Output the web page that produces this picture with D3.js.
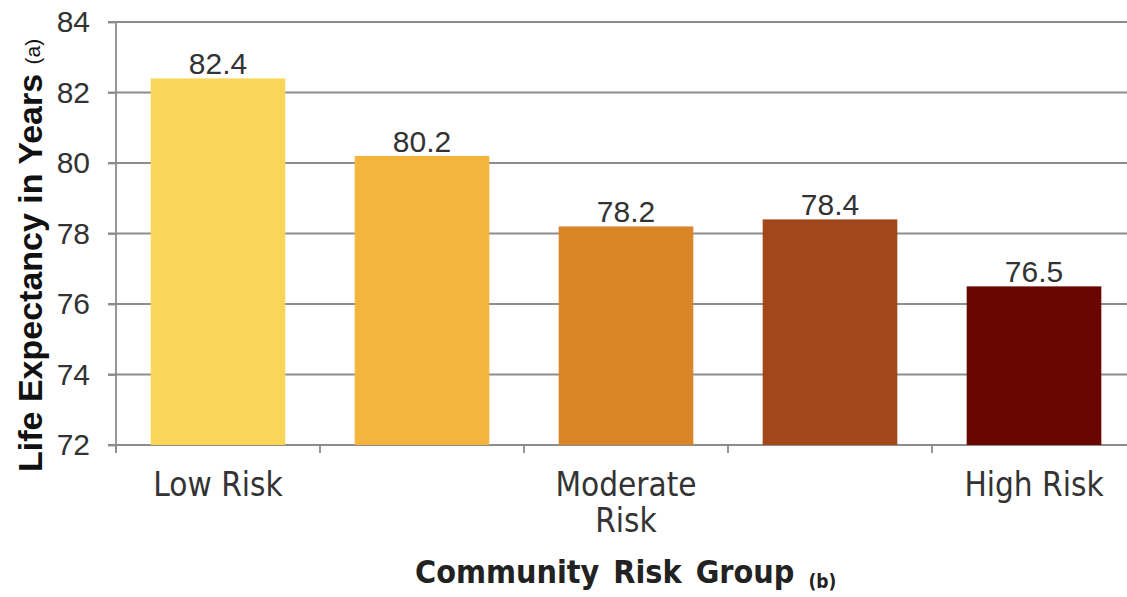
<!DOCTYPE html>
<html><head><meta charset="utf-8">
<script src="https://cdn.jsdelivr.net/npm/d3@7"></script>
<style>body{margin:0;background:#fff}svg{display:block}</style>
</head><body>
<svg id="c" width="1127" height="597"></svg>
<script>
const categories = ["Low Risk", "", "Moderate Risk", "", "High Risk"];
const values = [82.4, 80.2, 78.2, 78.4, 76.5];
const colors = ["#F9D658", "#F4B53E", "#DA8528", "#A2471A", "#690600"];
const yTicks = [72, 74, 76, 78, 80, 82, 84];

(function () {
const svg = d3.select("#c");
const pL = 116, pR = 1136, pT = 22, pB = 445;
const x = d3.scaleBand().domain(d3.range(values.length)).range([pL, pR]).paddingInner(0.34).paddingOuter(0.17);
const y = d3.scaleLinear().domain([72, 84]).range([pB, pT]);

// gridlines
svg.append("g").selectAll("line").data(yTicks).join("line")
  .attr("x1", pL - 8).attr("x2", pR).attr("y1", d => y(d)).attr("y2", d => y(d))
  .attr("stroke", "#8c8c8c").attr("stroke-width", 1.8);

// bars
svg.append("g").selectAll("rect").data(values).join("rect")
  .attr("x", (d, i) => x(i)).attr("width", x.bandwidth())
  .attr("y", d => y(d)).attr("height", d => y(72) - y(d))
  .attr("fill", (d, i) => colors[i]);

// value labels
svg.append("g").selectAll("text").data(values).join("text")
  .attr("x", (d, i) => x(i) + x.bandwidth() / 2).attr("y", d => y(d) - 4)
  .attr("text-anchor", "middle").attr("font-family", "Liberation Sans, Arial, sans-serif")
  .attr("font-size", 30).attr("fill", "#333").text(d => d.toFixed(1));

// y axis
const yAxis = d3.axisLeft(y).tickValues(yTicks).tickSize(8).tickPadding(18).tickFormat(d3.format("d"));
const gy = svg.append("g").attr("transform", `translate(${pL},0)`).call(yAxis);
gy.select(".domain").attr("stroke", "#8c8c8c").attr("stroke-width", 1.8).attr("d", `M0,${pT}V${pB + 8}`);
gy.selectAll(".tick line").attr("stroke", "#8c8c8c").attr("stroke-width", 1.8);
gy.selectAll(".tick text").attr("font-family", "Liberation Sans, Arial, sans-serif").attr("font-size", 30).attr("fill", "#333");

// x axis ticks at band boundaries
const bounds = d3.range(values.length + 1).map(i => pL + i * x.step());
svg.append("g").selectAll("line").data(bounds).join("line")
  .attr("x1", d => d).attr("x2", d => d).attr("y1", pB).attr("y2", pB + 8)
  .attr("stroke", "#8c8c8c").attr("stroke-width", 1.8);

// x category labels
const xl = svg.append("g").selectAll("text").data(categories).join("text")
  .attr("x", (d, i) => x(i) + x.bandwidth() / 2).attr("y", 496)
  .attr("text-anchor", "middle").attr("font-family", "DejaVu Sans Condensed, DejaVu Sans, sans-serif")
  .attr("font-size", 33).attr("fill", "#333");
xl.each(function(d) {
  const parts = d === "Moderate Risk" ? ["Moderate", "Risk"] : [d];
  parts.forEach((p, k) => d3.select(this).append("tspan").attr("x", d3.select(this).attr("x")).attr("dy", k ? 36 : 0).text(p));
});

// x title
const xt = svg.append("text").attr("x", 415).attr("y", 583).attr("text-anchor", "start")
  .attr("font-family", "DejaVu Sans Condensed, DejaVu Sans, sans-serif").attr("font-weight", "bold")
  .attr("font-size", 32).attr("fill", "#222").attr("word-spacing", 4);
xt.append("tspan").text("Community Risk Group ");
xt.append("tspan").attr("font-size", 19).attr("dy", 5).text("(b)");

// y title
const yt = svg.append("text").attr("transform", "translate(42,472) rotate(-90)").attr("text-anchor", "start")
  .attr("font-family", "Liberation Sans, Arial, sans-serif").attr("font-weight", "bold")
  .attr("font-size", 34).attr("fill", "#111");
yt.append("tspan").text("Life Expectancy in Years ");
yt.append("tspan").attr("font-size", 21).attr("font-weight", "normal").attr("dy", -2).text("(a)");
})();
</script>
</body></html>
